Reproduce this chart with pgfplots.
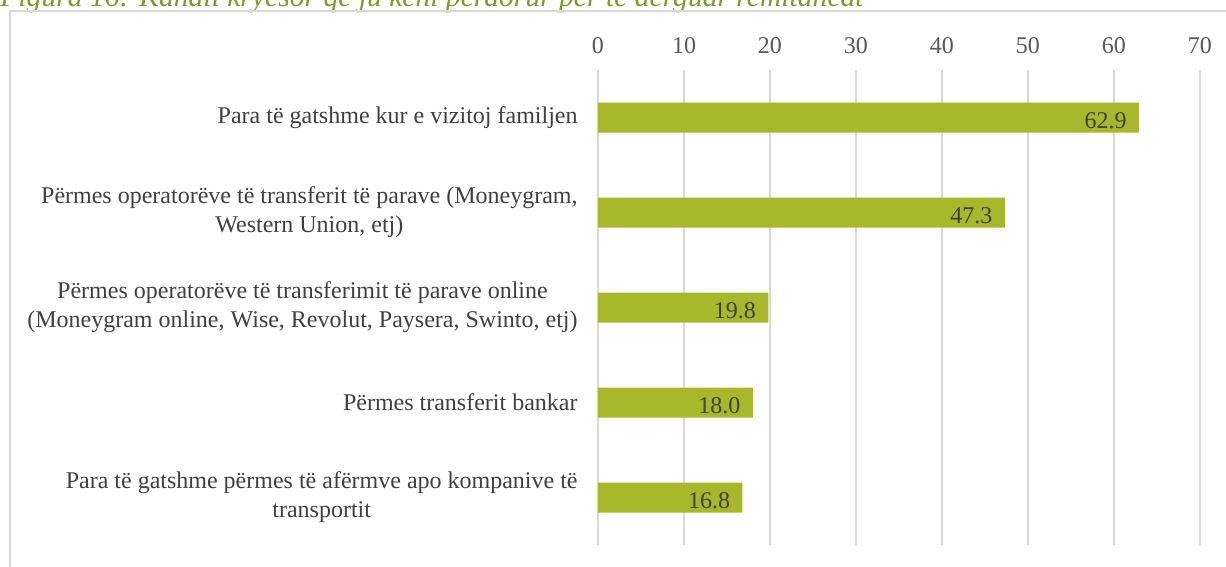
\documentclass[border=0pt]{standalone}
\usepackage{pgfplots}
\pgfplotsset{compat=1.18}
\usepackage{fontspec}
\setmainfont{Liberation Serif}
\definecolor{barcol}{HTML}{A7B82A}
\definecolor{titlecol}{HTML}{7F9A2B}
\definecolor{gridcol}{HTML}{D9D9D9}
\definecolor{tickcol}{HTML}{595959}
\definecolor{labcol}{HTML}{404040}
\begin{document}
\begin{tikzpicture}
\node[anchor=base west, inner sep=0pt, text=titlecol, font=\fontsize{14.8}{17}\selectfont\itshape] at (0pt,-3.5pt) {Figura 16: Kanali kryesor që ju keni përdorur për të dërguar remitancat};
\draw[gridcol, line width=0.6pt] (5pt,-5.5pt) rectangle (616pt,-300pt);
\begin{axis}[
  at={(299pt,-272.5pt)}, anchor=south west,
  scale only axis, width=301pt, height=237.5pt,
  xmin=0, xmax=70, ymin=-0.5, ymax=4.5,
  y dir=reverse,
  xbar, bar width=15pt,
  axis line style={draw=none},
  major tick length=0pt,
  xtick={0,10,...,70},
  xticklabel pos=top,
  xmajorgrids, grid style={gridcol, line width=0.6pt},
  ytick={0,1,2,3,4},
  yticklabels={
    {Para të gatshme kur e vizitoj familjen},
    {Përmes operatorëve të transferit të parave (Moneygram,\\Western Union, etj)},
    {Përmes operatorëve të transferimit të parave online\\(Moneygram online, Wise, Revolut, Paysera, Swinto, etj)},
    {Përmes transferit bankar},
    {Para të gatshme përmes të afërmve apo kompanive të\\transportit}},
  yticklabel style={align=center, anchor=east, inner sep=0pt, xshift=-10pt, text=labcol, font=\fontsize{12}{14.5}\selectfont},
  xticklabel style={anchor=south, inner sep=0pt, yshift=8pt, text=tickcol, font=\fontsize{12}{14.5}\selectfont},
  /pgf/number format/assume math mode=true,
  nodes near coords,
  nodes near coords style={anchor=east, inner sep=0pt, xshift=-6pt, yshift=-1.5pt, text=labcol, font=\fontsize{12}{14.5}\selectfont,
    /pgf/number format/.cd, fixed, fixed zerofill, precision=1, assume math mode=true},
  clip=false,
]
\addplot[fill=barcol, draw=none] coordinates {(62.9,0) (47.3,1) (19.8,2) (18.0,3) (16.8,4)};
\end{axis}
\pgfresetboundingbox
\path[use as bounding box] (0pt,0pt) rectangle (613pt,-283.5pt);
\end{tikzpicture}
\end{document}
